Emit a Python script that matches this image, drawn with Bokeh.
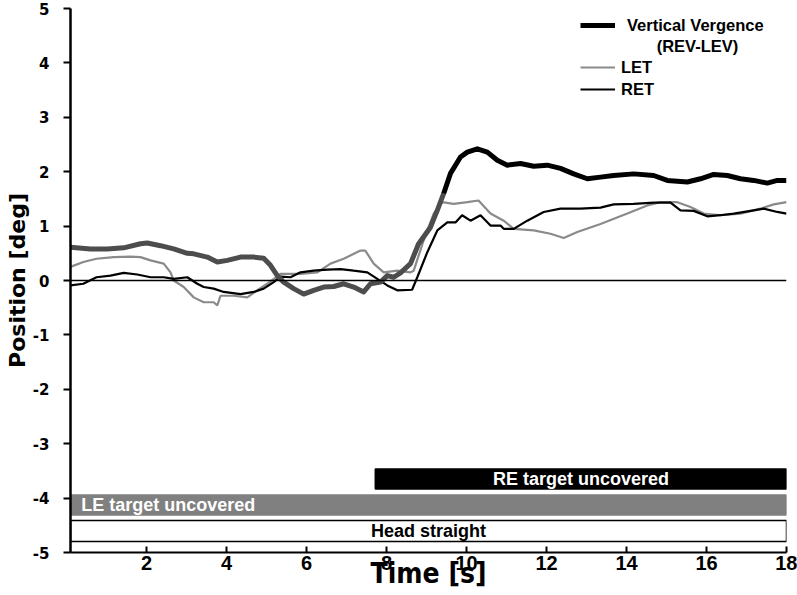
from bokeh.plotting import figure
from bokeh.models import Range1d, FixedTicker, Span, Label, Legend, LegendItem
from bokeh.core.properties import value
from bokeh.embed import file_html
from bokeh.resources import INLINE

# ---------------- data ----------------
t_verg = [0.1, 0.6, 1.02, 1.43, 1.85, 2.02, 2.35, 2.68, 3.02, 3.18, 3.52, 3.77, 4.02, 4.35,
          4.68, 4.93, 5.1, 5.27, 5.43, 5.68, 5.93, 6.18, 6.43, 6.68, 6.93, 7.18, 7.43, 7.6,
          7.85, 8.02, 8.18, 8.35, 8.6, 8.8, 9.1, 9.27, 9.43, 9.6, 9.85, 10.02, 10.27, 10.52,
          10.77, 11.02, 11.35, 11.68, 12.02, 12.35, 12.68, 13.02, 13.35, 13.68, 14.18, 14.68,
          15.02, 15.52, 15.85, 16.18, 16.52, 16.85, 17.18, 17.52, 17.77, 18.0]
verg = [0.61, 0.58, 0.58, 0.60, 0.675, 0.69, 0.64, 0.58, 0.50, 0.49, 0.43, 0.34, 0.37, 0.43,
        0.43, 0.41, 0.28, 0.09, -0.03, -0.15, -0.25, -0.18, -0.12, -0.11, -0.06, -0.12, -0.21, -0.06,
        -0.03, 0.09, 0.06, 0.14, 0.31, 0.67, 0.98, 1.29, 1.60, 1.97, 2.27, 2.36, 2.42, 2.36,
        2.21, 2.12, 2.15, 2.10, 2.12, 2.06, 1.96, 1.87, 1.90, 1.93, 1.96, 1.93,
        1.84, 1.81, 1.87, 1.95, 1.93, 1.87, 1.84, 1.79, 1.84, 1.84]

t_let = [0.1, 0.42, 0.75, 1.18, 1.6, 1.85, 2.1, 2.43, 2.6, 2.68, 2.93, 3.18, 3.43, 3.68, 3.77,
         3.85, 4.18, 4.52, 4.77, 5.02, 5.35, 5.85, 6.27, 6.6, 6.93, 7.35, 7.47, 7.68, 7.93, 8.27,
         8.6, 8.68, 8.93, 9.18, 9.39, 9.68, 10.02, 10.3, 10.6, 10.93, 11.18, 11.68, 12.1, 12.43,
         12.77, 13.35, 14.02, 14.52, 14.85, 15.27, 15.6, 15.93, 16.35, 16.85, 17.35, 17.68, 18.0]
let_vals = [0.25, 0.34, 0.40, 0.43, 0.44, 0.43, 0.37, 0.31, 0.15, 0.0, -0.12, -0.31, -0.40, -0.40, -0.46,
            -0.28, -0.28, -0.31, -0.18, -0.06, 0.12, 0.12, 0.15, 0.31, 0.40, 0.55, 0.55, 0.31, 0.15, 0.18,
            0.15, 0.18, 0.74, 1.23, 1.44, 1.41, 1.44, 1.47, 1.23, 1.10, 0.95, 0.92, 0.86, 0.78,
            0.89, 1.04, 1.23, 1.38, 1.44, 1.44, 1.35, 1.23, 1.20, 1.23, 1.32, 1.40, 1.44]

t_ret = [0.1, 0.42, 0.75, 1.1, 1.43, 1.77, 2.1, 2.43, 2.68, 3.02, 3.27, 3.43, 3.68, 3.93, 4.35,
         4.68, 4.93, 5.18, 5.35, 5.6, 5.85, 6.18, 6.52, 6.85, 7.18, 7.52, 7.77, 8.02, 8.27, 8.64,
         8.77, 9.02, 9.27, 9.52, 9.73, 9.89, 10.1, 10.35, 10.6, 10.85, 10.93, 11.18, 11.52, 11.93,
         12.35, 12.85, 13.35, 13.68, 14.18, 14.68, 15.1, 15.35, 15.68, 16.02, 16.35, 16.68, 17.18,
         17.43, 17.77, 18.0]
ret_vals = [-0.09, -0.06, 0.06, 0.09, 0.14, 0.11, 0.06, 0.06, 0.03, 0.06, -0.06, -0.12, -0.15, -0.21, -0.25,
            -0.21, -0.15, -0.03, 0.07, 0.06, 0.15, 0.18, 0.20, 0.21, 0.18, 0.15, 0.03, -0.09, -0.18, -0.17,
            0.06, 0.52, 0.92, 1.07, 1.07, 1.20, 1.10, 1.20, 1.01, 1.01, 0.95, 0.95, 1.10, 1.26,
            1.32, 1.32, 1.34, 1.40, 1.41, 1.43, 1.43, 1.29, 1.28, 1.18, 1.20, 1.23, 1.29,
            1.32, 1.26, 1.23]

verg_color_switch = 9.43  # vergence trace drawn dark grey before this time, black after

cond_labels = ["RE target uncovered", "LE target uncovered", "Head straight"]
cond_start = [7.72, 0.1, 0.1]
cond_end = [18.0, 18.0, 18.0]

x_ticks = [2, 4, 6, 8, 10, 12, 14, 16, 18]
y_ticks = [-5, -4, -3, -2, -1, 0, 1, 2, 3, 4, 5]
y_tick_labels = ["-5", "-4", "-3", "-2", "-1", "0", "1", "2", "3", "4", "5"]

# ---------------- figure ----------------
p = figure(width=797, height=595, output_backend="svg", toolbar_location=None,
           x_range=Range1d(0.1, 18), y_range=Range1d(-5, 5),
           min_border_left=70, min_border_right=11, min_border_top=8, min_border_bottom=43)
p.xgrid.visible = False
p.ygrid.visible = False
p.outline_line_color = None
p.background_fill_color = "white"
p.border_fill_color = "white"

# axes
p.xaxis.ticker = FixedTicker(ticks=x_ticks)
p.yaxis.ticker = FixedTicker(ticks=y_ticks)
p.yaxis.major_label_overrides = {t: s for t, s in zip(y_ticks, y_tick_labels)}
for ax in (p.xaxis, p.yaxis):
    ax.minor_tick_line_color = None
    ax.axis_line_color = "black"
    ax.major_tick_line_color = "black"
    ax.major_tick_line_width = 2
    ax.major_label_text_color = "black"
    ax.major_label_text_font_style = "bold"
p.xaxis.axis_line_width = 2
p.xaxis.major_tick_in = 6
p.xaxis.major_tick_out = 0
p.xaxis.major_label_standoff = 3
p.xaxis.major_label_text_font = "Liberation Sans"
p.xaxis.major_label_text_font_size = "20px"
p.xaxis.axis_label = "Time [s]"
p.xaxis.axis_label_text_font = "DejaVu Sans Condensed"
p.xaxis.axis_label_text_font_size = "28px"
p.xaxis.axis_label_text_font_style = "bold"
p.xaxis.axis_label_text_color = "black"
p.xaxis.axis_label_standoff = -16

p.yaxis.axis_line_width = 2.5
p.yaxis.major_tick_in = 0
p.yaxis.major_tick_out = 7
p.yaxis.major_label_standoff = 14
p.yaxis.major_label_text_font = "DejaVu Sans"
p.yaxis.major_label_text_font_size = "15px"
p.yaxis.axis_label = "Position [deg]"
p.yaxis.axis_label_text_font = "DejaVu Sans"
p.yaxis.axis_label_text_font_size = "22px"
p.yaxis.axis_label_text_font_style = "bold"
p.yaxis.axis_label_text_color = "black"
p.yaxis.axis_label_standoff = 0

# zero line
p.add_layout(Span(location=0, dimension="width", line_color="black", line_width=1.5))

# ---------------- condition bars ----------------
bar_fill = ["black", "#808080", "white"]
bar_line = ["black", "#808080", "black"]
bar_bottom = [-3.833, -4.312, -4.80]
bar_top = [-3.465, -3.942, -4.411]
txt_color = ["white", "white", "black"]
for i in range(3):
    p.quad(left=[cond_start[i]], right=[cond_end[i]], bottom=[bar_bottom[i]], top=[bar_top[i]],
           fill_color=bar_fill[i], line_color=bar_line[i], line_width=1.5)
    mid_y = (bar_bottom[i] + bar_top[i]) / 2
    if i == 1:
        tx, align = cond_start[i] + 0.27, "left"
    else:
        tx, align = (cond_start[i] + cond_end[i]) / 2, "center"
    p.text(x=[tx], y=[mid_y], text=[cond_labels[i]], text_font=value("Liberation Sans"),
           text_font_size=value("18px"), text_font_style="bold", text_color=txt_color[i],
           text_align=align, text_baseline="middle")

# ---------------- traces ----------------
r_let = p.line(t_let, let_vals, line_color="#8a8a8a", line_width=2.2)
r_ret = p.line(t_ret, ret_vals, line_color="black", line_width=2.2)

tv1 = [t for t in t_verg if t <= verg_color_switch]
vv1 = [v for t, v in zip(t_verg, verg) if t <= verg_color_switch]
tv2 = [t for t in t_verg if t >= verg_color_switch]
vv2 = [v for t, v in zip(t_verg, verg) if t >= verg_color_switch]
r_v1 = p.line(tv1, vv1, line_color="#4d4d4d", line_width=5, line_join="round")
r_v2 = p.line(tv2, vv2, line_color="black", line_width=5, line_join="round")

# ---------------- legend ----------------
leg_common = dict(padding=0, margin=0, border_line_color=None, background_fill_alpha=0,
                  glyph_width=35, glyph_height=20, label_height=20,
                  label_text_font="Liberation Sans", label_text_font_size="16.5px",
                  label_text_font_style="bold", label_text_color="black")
leg1 = Legend(items=[LegendItem(label="Vertical Vergence", renderers=[r_v2])],
              location=(510, 517), label_standoff=12, spacing=0, **leg_common)
leg2 = Legend(items=[LegendItem(label="LET", renderers=[r_let]),
                     LegendItem(label="RET", renderers=[r_ret])],
              location=(510, 453), label_standoff=6, spacing=2, **leg_common)
p.add_layout(leg1)
p.add_layout(leg2)
p.add_layout(Label(x=627, y=507, x_units="screen", y_units="screen", text="(REV-LEV)",
                   text_align="center", text_baseline="middle",
                   text_font="Liberation Sans", text_font_size="16.5px",
                   text_font_style="bold", text_color="black"))

open("out.html", "w").write(file_html(p, INLINE))
